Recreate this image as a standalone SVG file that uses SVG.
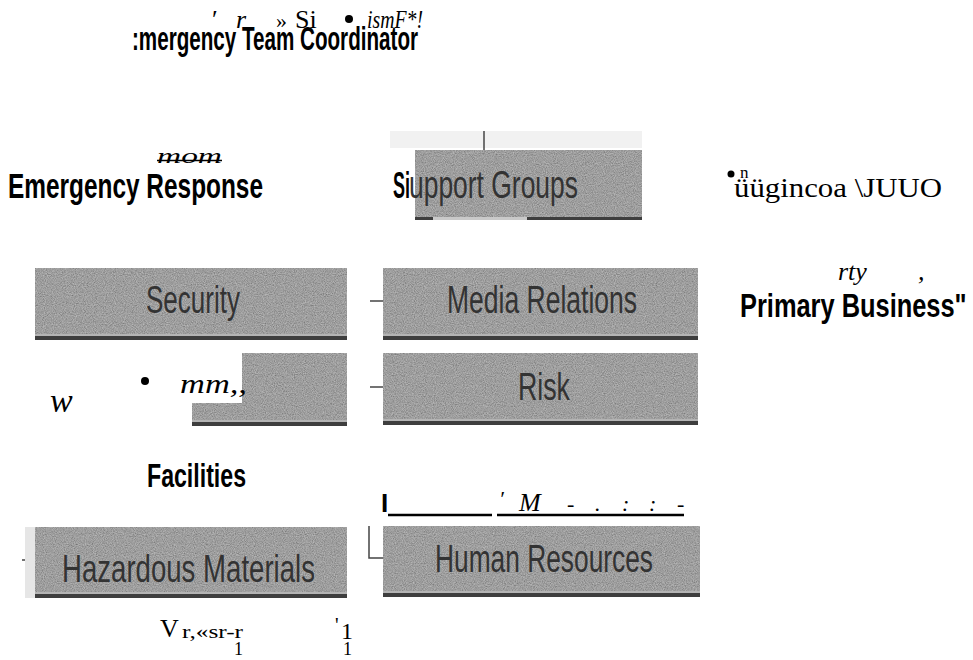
<svg xmlns="http://www.w3.org/2000/svg" width="973" height="660" viewBox="0 0 973 660">
<defs>
<filter id="grain" x="0" y="0" width="100%" height="100%">
<feTurbulence type="fractalNoise" baseFrequency="0.9" numOctaves="2" seed="7" result="n"/>
<feColorMatrix in="n" type="matrix" values="1 0 0 0 0  1 0 0 0 0  1 0 0 0 0  0 0 0 0 0.4" result="g"/>
<feComposite in="g" in2="SourceGraphic" operator="atop"/>
</filter>
<style>
.box{fill:#858585;filter:url(#grain)}
.hi{fill:#b4b4b4}
.lo{fill:#3e3e3e}
.bt{font-family:"Liberation Sans",Arial,sans-serif;font-size:38px;fill:#333}
.lab{font-family:"Liberation Sans",Arial,sans-serif;font-weight:bold;fill:#000}
.ser{font-family:"Liberation Serif","Times New Roman",serif;fill:#000}
.it{font-style:italic}
.con{stroke:#444;stroke-width:1.5;fill:none}
.ul{stroke:#000;stroke-width:2.5}
</style>
</defs>
<rect width="973" height="660" fill="#fff"/>

<g id="noise-top">
<text class="ser" x="212" y="28" font-size="26">′</text>
<text class="ser it" x="236" y="28" font-size="26">r</text>
<text class="ser" x="276" y="28" font-size="22">»</text>
<text class="ser" x="295" y="28" font-size="26">Si</text>
<circle cx="349" cy="19" r="4" fill="#000"/>
<text class="ser it" x="367" y="28" font-size="26" textLength="56" lengthAdjust="spacingAndGlyphs">ismF*!</text>
</g>

<g id="title">
<text class="lab" x="132" y="50" font-size="33" textLength="286" lengthAdjust="spacingAndGlyphs">:mergency Team Coordinator</text>
</g>

<g id="connectors">
<rect x="390" y="131" width="252" height="17" fill="#f1f1f1"/>
<line class="con" x1="484" y1="131" x2="484" y2="152"/>
<line class="con" x1="370" y1="301" x2="383" y2="301"/>
<line class="con" x1="370" y1="387" x2="383" y2="387"/>
<path class="con" d="M369,526 V558 H383"/>
<line class="con" x1="22" y1="560" x2="35" y2="560"/>
</g>

<g id="emergency-response">
<text class="ser it" x="157" y="163" font-size="22" textLength="65" lengthAdjust="spacingAndGlyphs">mom</text>
<line x1="157" y1="160.5" x2="222" y2="160.5" stroke="#000" stroke-width="1.5"/>
<text class="lab" x="8" y="198" font-size="35" textLength="255" lengthAdjust="spacingAndGlyphs">Emergency Response</text>
</g>

<g id="support-groups">
<rect class="box" x="415" y="150" width="227" height="70"/>
<rect class="lo" x="415" y="217" width="227" height="3"/>
<rect x="433" y="217" width="94" height="3" fill="#c9c9c9"/>
<text class="bt" x="409" y="198" textLength="169" lengthAdjust="spacingAndGlyphs">upport Groups</text>
<text class="lab" x="393" y="198" font-size="36" font-weight="normal" textLength="17" lengthAdjust="spacingAndGlyphs">Si</text>
</g>

<g id="engineering">
<circle cx="731" cy="174" r="3.5" fill="#000"/>
<text class="ser" x="740" y="178" font-size="17">n</text>
<text class="ser" x="734" y="197" font-size="28" textLength="208" lengthAdjust="spacingAndGlyphs">üügincoa \JUUO</text>
</g>

<g id="security">
<rect class="box" x="35" y="268" width="312" height="72"/>
<rect class="hi" x="35" y="334" width="312" height="2"/>
<rect class="lo" x="35" y="336" width="312" height="4"/>
<text class="bt" x="146" y="313" textLength="94" lengthAdjust="spacingAndGlyphs">Security</text>
</g>

<g id="media-relations">
<rect class="box" x="383" y="268" width="315" height="72"/>
<rect class="hi" x="383" y="334" width="315" height="2"/>
<rect class="lo" x="383" y="336" width="315" height="4"/>
<text class="bt" x="447" y="313" textLength="190" lengthAdjust="spacingAndGlyphs">Media Relations</text>
</g>

<g id="primary-business">
<text class="ser it" x="838" y="280" font-size="26">rty</text>
<text class="ser it" x="918" y="280" font-size="26">,</text>
<text class="lab" font-size="33" transform="translate(740,317) scale(0.77,1)">Primary Business"</text>
</g>

<g id="partial-box">
<rect class="box" x="192" y="353" width="155" height="73"/>
<rect class="hi" x="192" y="420" width="155" height="2"/>
<rect class="lo" x="192" y="422" width="155" height="4"/>
<rect x="190" y="351" width="52" height="52" fill="#fff"/>
<circle cx="145" cy="381" r="4" fill="#000"/>
<text class="ser it" x="180" y="393" font-size="28" textLength="67" lengthAdjust="spacingAndGlyphs">mm,,</text>
<text class="ser it" x="50" y="412" font-size="34">w</text>
</g>

<g id="risk">
<rect class="box" x="383" y="353" width="315" height="72"/>
<rect class="hi" x="383" y="419" width="315" height="2"/>
<rect class="lo" x="383" y="421" width="315" height="4"/>
<text class="bt" x="518" y="400" textLength="52" lengthAdjust="spacingAndGlyphs">Risk</text>
</g>

<g id="facilities">
<text class="lab" x="147" y="487" font-size="33" textLength="99" lengthAdjust="spacingAndGlyphs">Facilities</text>
</g>

<g id="underline-row">
<text class="lab" x="381" y="512" font-size="26" font-weight="normal">I</text>
<line class="ul" x1="388" y1="515" x2="492" y2="515"/>
<line class="ul" x1="497" y1="515" x2="684" y2="515"/>
<text class="ser it" x="499" y="506" font-size="22">′</text>
<text class="ser it" x="519" y="511" font-size="26">M</text>
<text class="ser it" x="567" y="511" font-size="22">-</text>
<text class="ser it" x="595" y="511" font-size="22">.</text>
<text class="ser it" x="622" y="511" font-size="22">:</text>
<text class="ser it" x="649" y="511" font-size="22">:</text>
<text class="ser it" x="677" y="511" font-size="22">-</text>
</g>

<g id="hazardous-materials">
<rect x="25" y="527" width="10" height="71" fill="#e6e6e6"/>
<rect class="box" x="35" y="527" width="312" height="71"/>
<rect class="hi" x="35" y="592" width="312" height="2"/>
<rect class="lo" x="35" y="594" width="312" height="4"/>
<text class="bt" x="62" y="582" textLength="253" lengthAdjust="spacingAndGlyphs">Hazardous Materials</text>
</g>

<g id="human-resources">
<rect class="box" x="383" y="526" width="317" height="71"/>
<rect class="hi" x="383" y="591" width="317" height="2"/>
<rect class="lo" x="383" y="593" width="317" height="4"/>
<text class="bt" x="435" y="572" textLength="218" lengthAdjust="spacingAndGlyphs">Human Resources</text>
</g>

<g id="noise-bottom">
<text class="ser" x="160" y="637" font-size="26">V</text>
<text class="ser" x="182" y="638" font-size="18" textLength="61" lengthAdjust="spacingAndGlyphs">r,«sr-r</text>
<text class="ser" x="234" y="655" font-size="18">1</text>
<text class="ser" x="335" y="632" font-size="20">'</text>
<text class="ser" x="341" y="639" font-size="24">1</text>
<text class="ser" x="343" y="655" font-size="18">1</text>
</g>
</svg>
